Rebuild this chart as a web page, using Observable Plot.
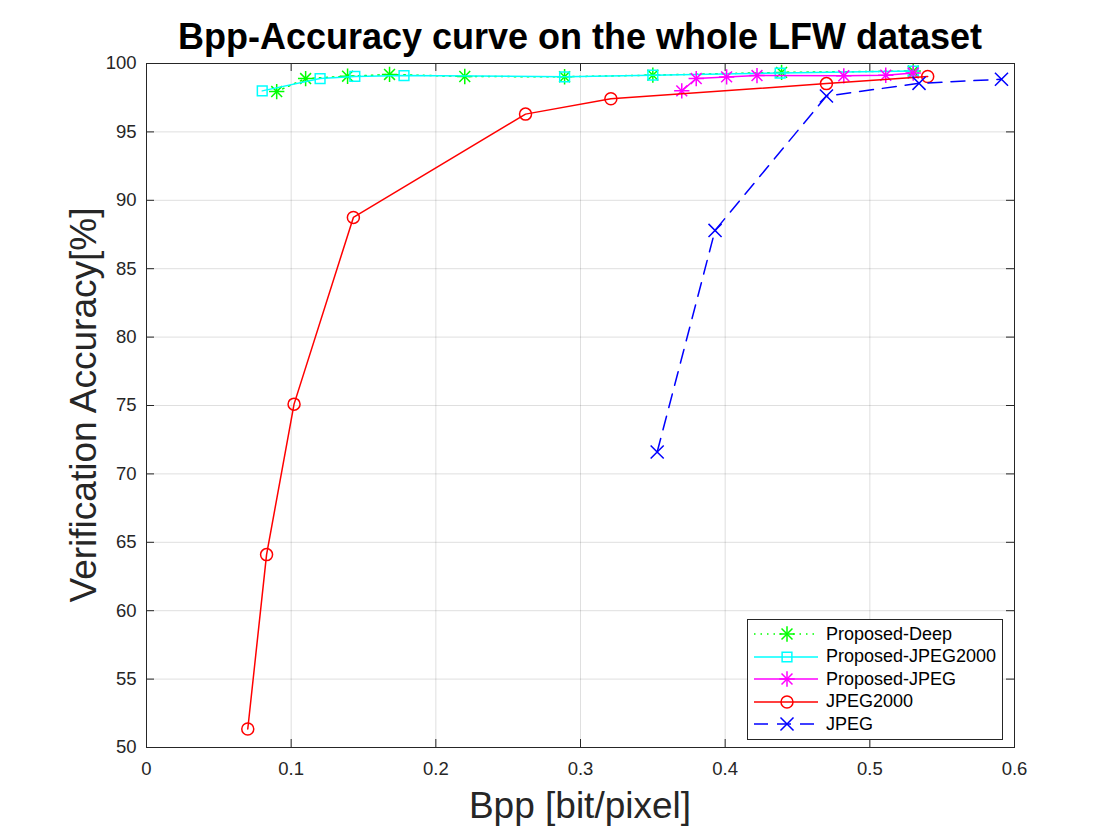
<!DOCTYPE html>
<html>
<head>
<meta charset="utf-8">
<script src="https://cdn.jsdelivr.net/npm/d3@7"></script>
<script src="https://cdn.jsdelivr.net/npm/@observablehq/plot@0.6"></script>
<style>
  body { margin: 0; background: #fff; }
  #wrap { position: relative; width: 1120px; height: 840px; font-family: "Liberation Sans", Arial, sans-serif; color: #262626; }
  #title { position: absolute; left: 146px; width: 868px; top: 17px; text-align: center; font-weight: bold; font-size: 36px; line-height: 40px; color: #000; white-space: nowrap; z-index: 2; }
  #chart { position: absolute; left: 0; top: 35px; z-index: 1; }
  #xlabel { position: absolute; left: 146px; width: 868px; top: 784px; text-align: center; font-size: 37px; line-height: 44px; white-space: nowrap; z-index: 2; }
  #ylabel { position: absolute; left: 84px; top: 405px; transform: translate(-50%, -50%) rotate(-90deg); font-size: 37px; line-height: 44px; white-space: nowrap; z-index: 2; }
  #legend { position: absolute; left: 747px; top: 619px; width: 256px; height: 121px; border: 1px solid #262626; background: #fff; box-sizing: border-box; padding-top: 3px; z-index: 3; }
  .row { display: flex; align-items: center; height: 22.5px; font-size: 18px; color: #000; white-space: nowrap; }
  .row svg { margin-left: 4px; margin-right: 6px; }
</style>
</head>
<body>
<div id="wrap">
  <div id="title">Bpp-Accuracy curve on the whole LFW dataset</div>
  <div id="chart"></div>
  <div id="xlabel">Bpp [bit/pixel]</div>
  <div id="ylabel">Verification Accuracy[%]</div>
  <div id="legend"></div>
</div>
<script>
// ---- data ----
const xTicks = [0, 0.1, 0.2, 0.3, 0.4, 0.5, 0.6];
const yTicks = [50, 55, 60, 65, 70, 75, 80, 85, 90, 95, 100];
const xDomain = [0, 0.6];
const yDomain = [50, 100];

const seriesNames = ["Proposed-Deep", "Proposed-JPEG2000", "Proposed-JPEG", "JPEG2000", "JPEG"];

const deepBpp = [0.09, 0.11, 0.139, 0.168, 0.22, 0.289, 0.35, 0.439, 0.53];
const deepAcc = [97.95, 98.9, 99.07, 99.2, 99.05, 99.03, 99.15, 99.35, 99.45];

const pj2kBpp = [0.08, 0.12, 0.144, 0.178, 0.289, 0.35, 0.438, 0.53];
const pj2kAcc = [98.0, 98.9, 99.05, 99.12, 99.03, 99.15, 99.3, 99.45];

const pjpegBpp = [0.37, 0.38, 0.401, 0.422, 0.482, 0.511, 0.53];
const pjpegAcc = [98.0, 98.9, 99.02, 99.12, 99.1, 99.14, 99.3];

const j2kBpp = [0.07, 0.083, 0.102, 0.143, 0.262, 0.321, 0.47, 0.54];
const j2kAcc = [51.35, 64.1, 75.1, 88.75, 96.3, 97.42, 98.53, 99.05];

const jpegBpp = [0.353, 0.393, 0.47, 0.534, 0.591];
const jpegAcc = [71.6, 87.8, 97.62, 98.55, 98.85];

// ---- build tables ----
const zip = (xs, ys) => xs.map((x, i) => ({x, y: ys[i]}));
const deep = zip(deepBpp, deepAcc);
const pj2k = zip(pj2kBpp, pj2kAcc);
const pjpeg = zip(pjpegBpp, pjpegAcc);
const j2k = zip(j2kBpp, j2kAcc);
const jpeg = zip(jpegBpp, jpegAcc);

const GREEN = "#00ff00", CYAN = "#00ffff", MAGENTA = "#ff00ff", RED = "#ff0000", BLUE = "#0000ff";
const AX = "#262626";
const TICK = 8;

const chart = Plot.plot({
  width: 1120,
  height: 805,
  marginLeft: 146,
  marginRight: 106,
  marginTop: 28,
  marginBottom: 93,
  style: { fontFamily: "'Liberation Sans', Arial, sans-serif", fontSize: "18.5px", color: AX, background: "transparent" },
  x: { domain: xDomain, label: null },
  y: { domain: yDomain, label: null },
  marks: [
    Plot.gridX(xTicks, { stroke: AX, strokeOpacity: 0.15 }),
    Plot.gridY(yTicks, { stroke: AX, strokeOpacity: 0.15 }),
    // inward ticks on all four sides
    Plot.ruleX(xTicks, { x: d => d, y1: () => yDomain[0], y2: () => yDomain[0], insetBottom: TICK, stroke: AX }),
    Plot.ruleX(xTicks, { x: d => d, y1: () => yDomain[1], y2: () => yDomain[1], insetBottom: -TICK, stroke: AX }),
    Plot.ruleY(yTicks, { y: d => d, x1: () => xDomain[0], x2: () => xDomain[0], insetRight: -TICK, stroke: AX }),
    Plot.ruleY(yTicks, { y: d => d, x1: () => xDomain[1], x2: () => xDomain[1], insetRight: TICK, stroke: AX }),
    Plot.axisX(xTicks, { anchor: "bottom", tickSize: 0, tickPadding: 14, tickFormat: d => String(d), fontSize: 18.5, fill: AX }),
    Plot.axisY(yTicks, { anchor: "left", tickSize: 0, tickPadding: 10, tickFormat: d => String(d), fontSize: 18.5, fill: AX }),
    // Proposed-Deep
    Plot.line(deep, { x: "x", y: "y", stroke: GREEN, strokeWidth: 1.5, strokeDasharray: "1.5,5" }),
    Plot.dot(deep, { x: "x", y: "y", symbol: "plus", r: 5, stroke: GREEN, strokeWidth: 1.5 }),
    Plot.dot(deep, { x: "x", y: "y", symbol: "times", r: 5, stroke: GREEN, strokeWidth: 1.5 }),
    // Proposed-JPEG2000
    Plot.line(pj2k, { x: "x", y: "y", stroke: CYAN, strokeWidth: 1.5 }),
    Plot.dot(pj2k, { x: "x", y: "y", symbol: "square", r: 5.5, fill: "none", stroke: CYAN, strokeWidth: 1.5 }),
    // Proposed-JPEG
    Plot.line(pjpeg, { x: "x", y: "y", stroke: MAGENTA, strokeWidth: 1.5 }),
    Plot.dot(pjpeg, { x: "x", y: "y", symbol: "plus", r: 5, stroke: MAGENTA, strokeWidth: 1.5 }),
    Plot.dot(pjpeg, { x: "x", y: "y", symbol: "times", r: 5, stroke: MAGENTA, strokeWidth: 1.5 }),
    // JPEG2000
    Plot.line(j2k, { x: "x", y: "y", stroke: RED, strokeWidth: 1.5 }),
    Plot.dot(j2k, { x: "x", y: "y", symbol: "circle", r: 6, fill: "none", stroke: RED, strokeWidth: 1.5 }),
    // JPEG
    Plot.line(jpeg, { x: "x", y: "y", stroke: BLUE, strokeWidth: 1.5, strokeDasharray: "14,9" }),
    Plot.dot(jpeg, { x: "x", y: "y", symbol: "times", r: 6, stroke: BLUE, strokeWidth: 1.5 }),
    Plot.frame({ stroke: AX })
  ]
});
document.getElementById("chart").appendChild(chart);

// ---- legend ----
const legendSpec = [
  { name: seriesNames[0], color: GREEN, dash: "1.5,5", symbols: [d3.symbolPlus, d3.symbolTimes], size: 80 },
  { name: seriesNames[1], color: CYAN, dash: null, symbols: [d3.symbolSquare], size: 95 },
  { name: seriesNames[2], color: MAGENTA, dash: null, symbols: [d3.symbolPlus, d3.symbolTimes], size: 80 },
  { name: seriesNames[3], color: RED, dash: null, symbols: [d3.symbolCircle], size: 113 },
  { name: seriesNames[4], color: BLUE, dash: "14,9", symbols: [d3.symbolTimes], size: 113 }
];
const legend = d3.select("#legend");
legendSpec.forEach(s => {
  const row = legend.append("div").attr("class", "row");
  const svg = row.append("svg").attr("width", 68).attr("height", 20);
  svg.append("line").attr("x1", 2).attr("x2", 66).attr("y1", 10).attr("y2", 10)
    .attr("stroke", s.color).attr("stroke-width", 1.5).attr("stroke-dasharray", s.dash);
  s.symbols.forEach(sym => {
    svg.append("path").attr("d", d3.symbol(sym, s.size)()).attr("transform", "translate(35,10)")
      .attr("fill", "none").attr("stroke", s.color).attr("stroke-width", 1.5);
  });
  row.append("span").text(s.name);
});
</script>
</body>
</html>
